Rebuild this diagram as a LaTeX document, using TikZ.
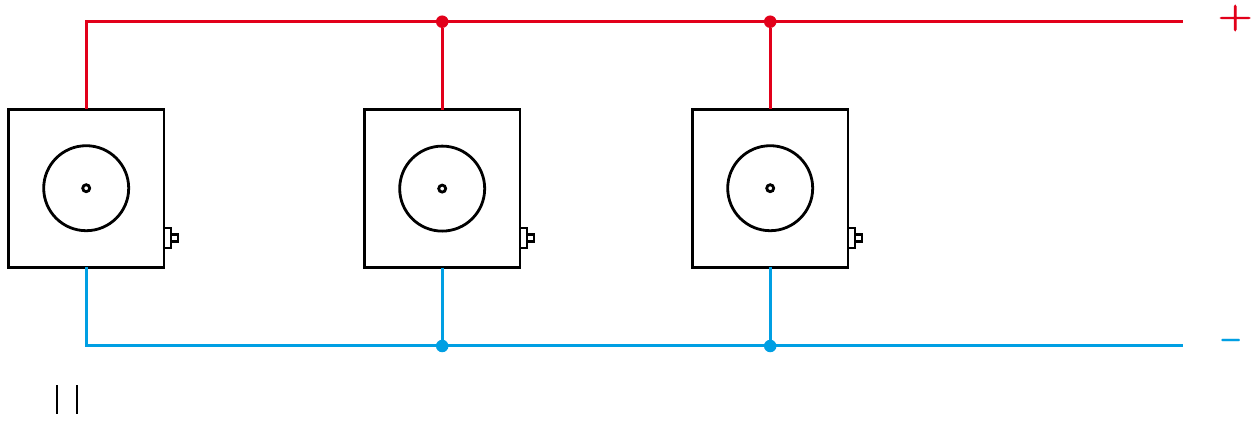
\documentclass[tikz,border=0pt]{standalone}
\definecolor{wirered}{HTML}{E2001A}
\definecolor{wireblue}{HTML}{009FE3}
\newcommand{\heavytext}[1]{\special{pdf:code 2 Tr 0.25 w}#1\special{pdf:code 0 Tr}}
\tikzset{
  every node/.style={inner sep=0pt,outer sep=0pt},
  device/.style={draw=black,line width=2.8pt,fill=white,minimum width=155.5pt,minimum height=158pt},
  dial/.style={draw=black,line width=2.8pt,circle,minimum size=85pt},
  pivot/.style={draw=black,line width=2.8pt,circle,minimum size=7pt},
  lug/.style={draw=black,line width=2.8pt,fill=white,minimum width=7pt,minimum height=20pt,anchor=west},
  tip/.style={draw=black,line width=2.8pt,fill=white,minimum width=7pt,minimum height=6.5pt,anchor=west},
  redwire/.style={draw=wirered,line width=2.9pt},
  bluewire/.style={draw=wireblue,line width=2.9pt},
  reddot/.style={circle,fill=wirered,minimum size=12.5pt},
  bluedot/.style={circle,fill=wireblue,minimum size=12.5pt},
  bar/.style={draw=black,line width=2.8pt}
}
\begin{document}
\begin{tikzpicture}[x=1pt,y=-1pt]
\useasboundingbox (0,0) rectangle (1259,421);
\coordinate (redend) at (1183,21.7);
\coordinate (blueend) at (1183,345.2);
\node[device] (d1) at (86.2,188.2) {};
\node[device] (d2) at (442.2,188.6) {};
\node[device] (d3) at (770.2,188.2) {};
\foreach \n in {1,2,3}{
  \node[dial] (c\n) at (d\n.center) {};
  \node[pivot] (p\n) at (d\n.center) {};
  \coordinate (s\n) at (d\n.east |- 0,238);
  \node[lug] (l\n) at (s\n) {};
  \node[tip] (t\n) at (l\n.east) {};
}
\node[reddot] (rd2) at (d2.north |- redend) {};
\node[reddot] (rd3) at (d3.north |- redend) {};
\node[bluedot] (bd2) at (442.2,346) {};
\node[bluedot] (bd3) at (770.2,346) {};
\draw[redwire] (d1.north) |- (redend);
\draw[redwire] (d2.north) -- (rd2);
\draw[redwire] (d3.north) -- (rd3);
\draw[bluewire] (d1.south) |- (blueend);
\draw[bluewire] (d2.south) -- (bd2);
\draw[bluewire] (d3.south) -- (bd3);
\node[text=wirered] (plus) at (1235.2,18) {\scalebox{4.4}[3.8]{\heavytext{$+$}}};
\node[text=wireblue] (minus) at (1231,340.5) {\scalebox{3}[6]{$-$}};
\coordinate (b1a) at (57,385); \coordinate (b1b) at (57,414);
\coordinate (b2a) at (77,385); \coordinate (b2b) at (77,414);
\draw[bar] (b1a) -- (b1b);
\draw[bar] (b2a) -- (b2b);
\end{tikzpicture}
\end{document}
